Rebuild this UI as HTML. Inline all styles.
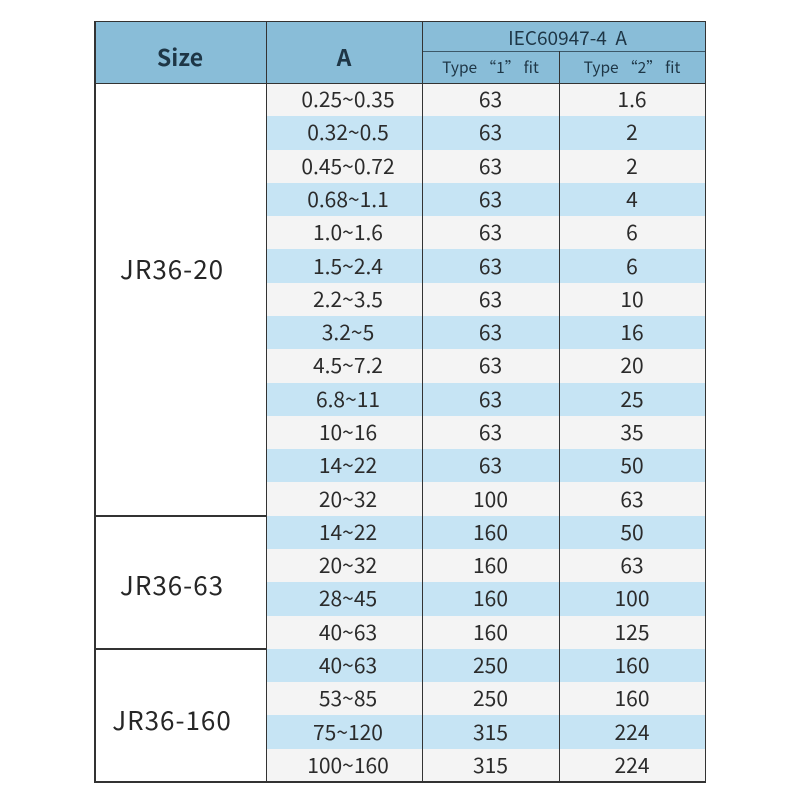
<!DOCTYPE html>
<html>
<head>
<meta charset="utf-8">
<style>
  html,body{margin:0;padding:0;background:#fff;}
  #c{position:relative;width:800px;height:800px;overflow:hidden;background:#fff;
     font-family:"Noto Sans CJK SC","Liberation Sans",sans-serif;}
  .a{position:absolute;}
  .hl{position:absolute;height:1.5px;background:#333;}
  .vl{position:absolute;width:1.5px;background:#333;}
  .t{position:absolute;display:flex;align-items:center;justify-content:center;white-space:nowrap;line-height:1;}
  .d{font-size:21px;color:#2b2b2b;}
  .h{color:#1e3646;}
</style>
</head>
<body>
<div id="c">
  <!-- header bg -->
  <div class="a" style="left:95px;top:21px;width:610px;height:62px;background:#89bdd8;"></div>

  <!-- stripes -->
  <div class="a" style="left:266px;top:83px;width:439px;height:33.3px;background:#f4f4f4;"></div>
  <div class="a" style="left:266px;top:116.3px;width:439px;height:33.3px;background:#c6e4f4;"></div>
  <div class="a" style="left:266px;top:149.6px;width:439px;height:33.3px;background:#f4f4f4;"></div>
  <div class="a" style="left:266px;top:182.9px;width:439px;height:33.3px;background:#c6e4f4;"></div>
  <div class="a" style="left:266px;top:216.1px;width:439px;height:33.3px;background:#f4f4f4;"></div>
  <div class="a" style="left:266px;top:249.4px;width:439px;height:33.3px;background:#c6e4f4;"></div>
  <div class="a" style="left:266px;top:282.7px;width:439px;height:33.3px;background:#f4f4f4;"></div>
  <div class="a" style="left:266px;top:316px;width:439px;height:33.3px;background:#c6e4f4;"></div>
  <div class="a" style="left:266px;top:349.3px;width:439px;height:33.3px;background:#f4f4f4;"></div>
  <div class="a" style="left:266px;top:382.6px;width:439px;height:33.3px;background:#c6e4f4;"></div>
  <div class="a" style="left:266px;top:415.9px;width:439px;height:33.3px;background:#f4f4f4;"></div>
  <div class="a" style="left:266px;top:449.1px;width:439px;height:33.3px;background:#c6e4f4;"></div>
  <div class="a" style="left:266px;top:482.4px;width:439px;height:33.3px;background:#f4f4f4;"></div>
  <div class="a" style="left:266px;top:515.7px;width:439px;height:33.3px;background:#c6e4f4;"></div>
  <div class="a" style="left:266px;top:549px;width:439px;height:33.3px;background:#f4f4f4;"></div>
  <div class="a" style="left:266px;top:582.3px;width:439px;height:33.3px;background:#c6e4f4;"></div>
  <div class="a" style="left:266px;top:615.6px;width:439px;height:33.3px;background:#f4f4f4;"></div>
  <div class="a" style="left:266px;top:648.9px;width:439px;height:33.3px;background:#c6e4f4;"></div>
  <div class="a" style="left:266px;top:682.1px;width:439px;height:33.3px;background:#f4f4f4;"></div>
  <div class="a" style="left:266px;top:715.4px;width:439px;height:33.3px;background:#c6e4f4;"></div>
  <div class="a" style="left:266px;top:748.7px;width:439px;height:33.3px;background:#f4f4f4;"></div>

  <!-- lines -->
  <div class="hl" style="left:94px;top:20.5px;width:612px;"></div>
  <div class="hl" style="left:94px;top:781px;width:612px;"></div>
  <div class="hl" style="left:422px;top:50.5px;width:283px;background:#3c5868;"></div>
  <div class="hl" style="left:94px;top:82.5px;width:612px;"></div>
  <div class="hl" style="left:94px;top:515.2px;width:172px;"></div>
  <div class="hl" style="left:94px;top:648.4px;width:172px;"></div>
  <div class="vl" style="left:94px;top:20.5px;height:762px;"></div>
  <div class="vl" style="left:704.5px;top:20.5px;height:762px;"></div>
  <div class="vl" style="left:265.5px;top:20.5px;height:762px;"></div>
  <div class="vl" style="left:421.5px;top:20.5px;height:762px;"></div>
  <div class="vl" style="left:558.5px;top:50.5px;height:732px;"></div>

  <!-- header text -->
  <div class="t h" style="left:95px;top:43px;width:170px;height:27px;font-size:23px;font-weight:bold;">Size</div>
  <div class="t h" style="left:266px;top:43px;width:156px;height:27px;font-size:23px;font-weight:bold;">A</div>
  <div class="t h" style="left:430px;top:26px;width:275px;height:22px;font-size:19px;">IEC60947-4&nbsp;&nbsp;A</div>
  <div class="t h" style="left:422px;top:58px;width:137px;height:20px;font-size:15.5px;">Type “1” fit</div>
  <div class="t h" style="left:559px;top:58px;width:146px;height:20px;font-size:15.5px;">Type “2” fit</div>

  <!-- size labels -->
  <div class="t" style="left:95px;top:254px;width:154px;height:30px;font-size:26px;color:#262626;letter-spacing:1px;">JR36-20</div>
  <div class="t" style="left:95px;top:570px;width:154px;height:30px;font-size:26px;color:#262626;letter-spacing:1px;">JR36-63</div>
  <div class="t" style="left:95px;top:705px;width:154px;height:30px;font-size:26px;color:#262626;letter-spacing:1px;">JR36-160</div>

  <!-- data rows -->
  <div class="t d" style="left:272px;top:83px;width:152px;height:33.3px;">0.25~0.35</div>
  <div class="t d" style="left:422px;top:83px;width:137px;height:33.3px;">63</div>
  <div class="t d" style="left:559px;top:83px;width:146px;height:33.3px;">1.6</div>

  <div class="t d" style="left:272px;top:116.3px;width:152px;height:33.3px;">0.32~0.5</div>
  <div class="t d" style="left:422px;top:116.3px;width:137px;height:33.3px;">63</div>
  <div class="t d" style="left:559px;top:116.3px;width:146px;height:33.3px;">2</div>

  <div class="t d" style="left:272px;top:149.6px;width:152px;height:33.3px;">0.45~0.72</div>
  <div class="t d" style="left:422px;top:149.6px;width:137px;height:33.3px;">63</div>
  <div class="t d" style="left:559px;top:149.6px;width:146px;height:33.3px;">2</div>

  <div class="t d" style="left:272px;top:182.9px;width:152px;height:33.3px;">0.68~1.1</div>
  <div class="t d" style="left:422px;top:182.9px;width:137px;height:33.3px;">63</div>
  <div class="t d" style="left:559px;top:182.9px;width:146px;height:33.3px;">4</div>

  <div class="t d" style="left:272px;top:216.1px;width:152px;height:33.3px;">1.0~1.6</div>
  <div class="t d" style="left:422px;top:216.1px;width:137px;height:33.3px;">63</div>
  <div class="t d" style="left:559px;top:216.1px;width:146px;height:33.3px;">6</div>

  <div class="t d" style="left:272px;top:249.4px;width:152px;height:33.3px;">1.5~2.4</div>
  <div class="t d" style="left:422px;top:249.4px;width:137px;height:33.3px;">63</div>
  <div class="t d" style="left:559px;top:249.4px;width:146px;height:33.3px;">6</div>

  <div class="t d" style="left:272px;top:282.7px;width:152px;height:33.3px;">2.2~3.5</div>
  <div class="t d" style="left:422px;top:282.7px;width:137px;height:33.3px;">63</div>
  <div class="t d" style="left:559px;top:282.7px;width:146px;height:33.3px;">10</div>

  <div class="t d" style="left:272px;top:316px;width:152px;height:33.3px;">3.2~5</div>
  <div class="t d" style="left:422px;top:316px;width:137px;height:33.3px;">63</div>
  <div class="t d" style="left:559px;top:316px;width:146px;height:33.3px;">16</div>

  <div class="t d" style="left:272px;top:349.3px;width:152px;height:33.3px;">4.5~7.2</div>
  <div class="t d" style="left:422px;top:349.3px;width:137px;height:33.3px;">63</div>
  <div class="t d" style="left:559px;top:349.3px;width:146px;height:33.3px;">20</div>

  <div class="t d" style="left:272px;top:382.6px;width:152px;height:33.3px;">6.8~11</div>
  <div class="t d" style="left:422px;top:382.6px;width:137px;height:33.3px;">63</div>
  <div class="t d" style="left:559px;top:382.6px;width:146px;height:33.3px;">25</div>

  <div class="t d" style="left:272px;top:415.9px;width:152px;height:33.3px;">10~16</div>
  <div class="t d" style="left:422px;top:415.9px;width:137px;height:33.3px;">63</div>
  <div class="t d" style="left:559px;top:415.9px;width:146px;height:33.3px;">35</div>

  <div class="t d" style="left:272px;top:449.1px;width:152px;height:33.3px;">14~22</div>
  <div class="t d" style="left:422px;top:449.1px;width:137px;height:33.3px;">63</div>
  <div class="t d" style="left:559px;top:449.1px;width:146px;height:33.3px;">50</div>

  <div class="t d" style="left:272px;top:482.4px;width:152px;height:33.3px;">20~32</div>
  <div class="t d" style="left:422px;top:482.4px;width:137px;height:33.3px;">100</div>
  <div class="t d" style="left:559px;top:482.4px;width:146px;height:33.3px;">63</div>

  <div class="t d" style="left:272px;top:515.7px;width:152px;height:33.3px;">14~22</div>
  <div class="t d" style="left:422px;top:515.7px;width:137px;height:33.3px;">160</div>
  <div class="t d" style="left:559px;top:515.7px;width:146px;height:33.3px;">50</div>

  <div class="t d" style="left:272px;top:549px;width:152px;height:33.3px;">20~32</div>
  <div class="t d" style="left:422px;top:549px;width:137px;height:33.3px;">160</div>
  <div class="t d" style="left:559px;top:549px;width:146px;height:33.3px;">63</div>

  <div class="t d" style="left:272px;top:582.3px;width:152px;height:33.3px;">28~45</div>
  <div class="t d" style="left:422px;top:582.3px;width:137px;height:33.3px;">160</div>
  <div class="t d" style="left:559px;top:582.3px;width:146px;height:33.3px;">100</div>

  <div class="t d" style="left:272px;top:615.6px;width:152px;height:33.3px;">40~63</div>
  <div class="t d" style="left:422px;top:615.6px;width:137px;height:33.3px;">160</div>
  <div class="t d" style="left:559px;top:615.6px;width:146px;height:33.3px;">125</div>

  <div class="t d" style="left:272px;top:648.9px;width:152px;height:33.3px;">40~63</div>
  <div class="t d" style="left:422px;top:648.9px;width:137px;height:33.3px;">250</div>
  <div class="t d" style="left:559px;top:648.9px;width:146px;height:33.3px;">160</div>

  <div class="t d" style="left:272px;top:682.1px;width:152px;height:33.3px;">53~85</div>
  <div class="t d" style="left:422px;top:682.1px;width:137px;height:33.3px;">250</div>
  <div class="t d" style="left:559px;top:682.1px;width:146px;height:33.3px;">160</div>

  <div class="t d" style="left:272px;top:715.4px;width:152px;height:33.3px;">75~120</div>
  <div class="t d" style="left:422px;top:715.4px;width:137px;height:33.3px;">315</div>
  <div class="t d" style="left:559px;top:715.4px;width:146px;height:33.3px;">224</div>

  <div class="t d" style="left:272px;top:748.7px;width:152px;height:33.3px;">100~160</div>
  <div class="t d" style="left:422px;top:748.7px;width:137px;height:33.3px;">315</div>
  <div class="t d" style="left:559px;top:748.7px;width:146px;height:33.3px;">224</div>
</div>
</body>
</html>
